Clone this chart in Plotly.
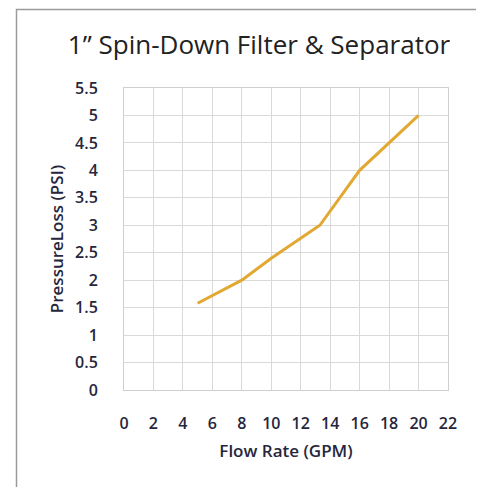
import plotly.graph_objects as go

flow_gpm = [5, 8, 10, 13.3, 16, 20]
pressure_psi = [1.58, 2.0, 2.4, 3.0, 4.0, 5.0]
x_ticks = list(range(0, 23, 2))
y_ticks = [i * 0.5 for i in range(12)]
y_tick_labels = ["0", "0.5", "1", "1.5", "2", "2.5", "3", "3.5", "4", "4.5", "5", "5.5"]

# page has an 8px body margin, so the figure is sized/offset to compensate
W, H = 476, 479
L, R, T, B = 116, 36, 80, 97
pw, ph = W - L - R, H - T - B

def px(xp):
    return (xp - L) / pw

def py(yp):
    return (H - B - yp) / ph

fig = go.Figure()
fig.add_trace(go.Scatter(
    x=flow_gpm, y=pressure_psi, mode="lines",
    line=dict(color="#E2A832", width=3),
    hoverinfo="x+y", showlegend=False,
))

tick_font = dict(family="Open Sans, sans-serif", size=16, color="#26263c", weight=600)
title_font = dict(family="Open Sans, sans-serif", size=17, color="#26263c", weight=600)
fig.update_layout(
    width=W, height=H,
    margin=dict(l=L, r=R, t=T, b=B),
    paper_bgcolor="white", plot_bgcolor="white",
    title=dict(text="1\u201d Spin-Down Filter &amp; Separator",
               font=dict(family="Open Sans, sans-serif", size=26, color="#222222"),
               xref="container", x=251 / W, xanchor="center",
               yref="container", y=1 - 37 / H, yanchor="middle"),
    shapes=[dict(type="path", xref="paper", yref="paper",
                 path=f"M {px(8.5)} {py(600)} L {px(8.5)} {py(1.5)} L {px(473.5)} {py(1.5)} L {px(473.5)} {py(600)}",
                 line=dict(color="#9a9a9a", width=1.5), layer="below")],
)
fig.update_xaxes(
    range=[0, 22], tickvals=x_ticks, ticktext=[str(v) for v in x_ticks],
    showgrid=True, gridcolor="#d9d9d9", gridwidth=1,
    showline=True, linecolor="#cfcfcf", linewidth=1, mirror=True,
    zeroline=False, ticks="", ticklabelstandoff=19, tickfont=tick_font,
    title=dict(text="Flow Rate (GPM)", font=title_font, standoff=11),
    fixedrange=True,
)
fig.update_yaxes(
    range=[0, 5.5], tickvals=y_ticks, ticktext=y_tick_labels,
    showgrid=True, gridcolor="#d9d9d9", gridwidth=1,
    showline=True, linecolor="#cfcfcf", linewidth=1, mirror=True,
    zeroline=False, ticks="", ticklabelstandoff=22, tickfont=tick_font,
    title=dict(text="PressureLoss (PSI)", font=title_font, standoff=7),
    fixedrange=True,
)

fig.write_html("out.html")
